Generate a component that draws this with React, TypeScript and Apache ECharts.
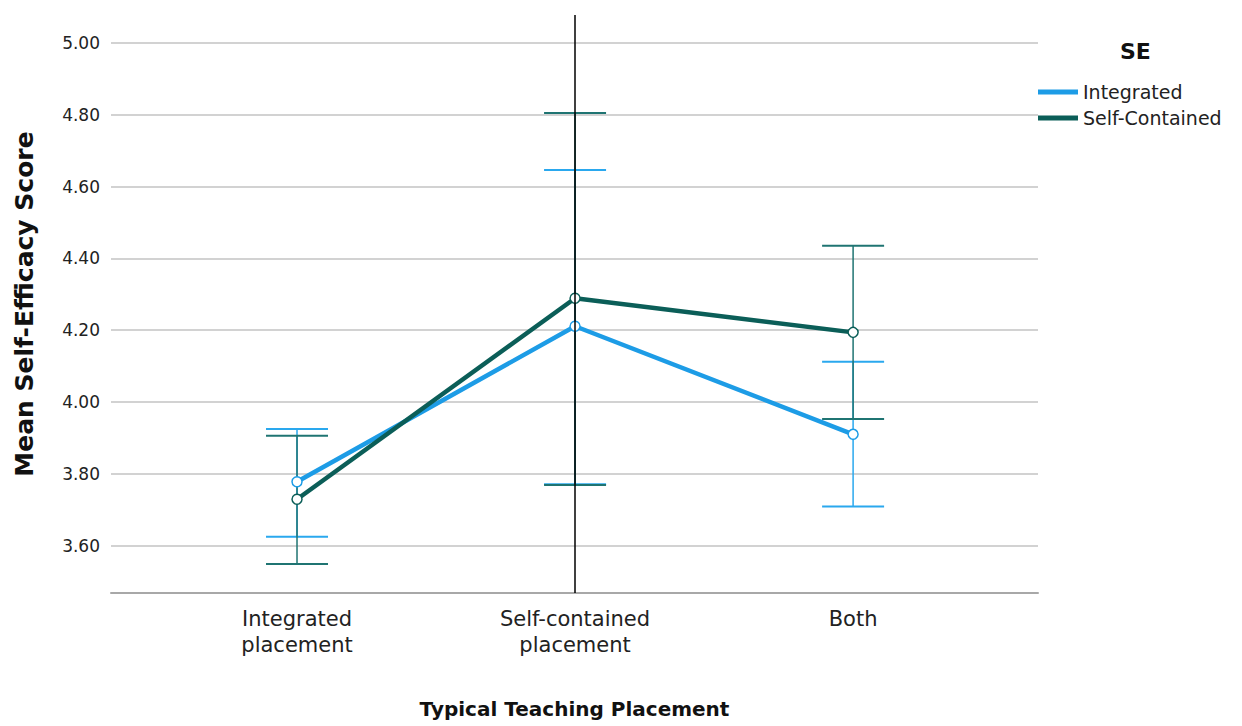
import React, { useEffect, useRef } from "react";
import * as echarts from "echarts";

const categories = ["Integrated\nplacement", "Self-contained\nplacement", "Both"];
const seriesNames = ["Integrated", "Self-Contained"];
const integratedMean = [3.778, 4.211, 3.91];
const integratedLow = [3.625, 3.771, 3.709];
const integratedHigh = [3.925, 4.646, 4.112];
const selfMean = [3.729, 4.289, 4.194];
const selfLow = [3.549, 3.769, 3.953];
const selfHigh = [3.906, 4.805, 4.435];

const BLUE = "#1d9ce6";
const TEAL = "#0b5e58";
const BLUE_ERR = "#2aa8ee";
const TEAL_ERR = "#1f7472";
const FONT = "DejaVu Sans";

function errorSeries(name: string, low: number[], high: number[], color: string) {
  return {
    type: "custom",
    name,
    z: 2,
    encode: { x: 0, y: [1, 2] },
    data: low.map((l, i) => [i, l, high[i]]),
    renderItem: (params: any, api: any) => {
      const x = api.value(0);
      const pLo = api.coord([x, api.value(1)]);
      const pHi = api.coord([x, api.value(2)]);
      const hw = 31;
      return {
        type: "group",
        children: [
          { type: "line", shape: { x1: pLo[0], y1: pLo[1], x2: pHi[0], y2: pHi[1] }, style: { stroke: color, lineWidth: 1.5 } },
          { type: "line", shape: { x1: pLo[0] - hw, y1: pLo[1], x2: pLo[0] + hw, y2: pLo[1] }, style: { stroke: color, lineWidth: 2 } },
          { type: "line", shape: { x1: pHi[0] - hw, y1: pHi[1], x2: pHi[0] + hw, y2: pHi[1] }, style: { stroke: color, lineWidth: 2 } },
        ],
      };
    },
  };
}

export default function App() {
  const ref = useRef<HTMLDivElement>(null);
  useEffect(() => {
    if (!ref.current) return;
    const chart = echarts.init(ref.current, null, { renderer: "svg" });
    chart.setOption({
      animation: false,
      backgroundColor: "#ffffff",
      textStyle: { fontFamily: FONT },
      grid: { left: 111, right: 204, top: 15, bottom: 133, containLabel: false },
      legend: {
        data: [
          { name: seriesNames[0], itemStyle: { color: BLUE, borderWidth: 0 } },
          { name: seriesNames[1], itemStyle: { color: TEAL, borderWidth: 0 } },
        ],
        orient: "vertical",
        left: 1033,
        top: 77,
        icon: "rect",
        itemWidth: 40,
        itemHeight: 5,
        itemGap: 6,
        textStyle: { fontFamily: FONT, fontSize: 19, color: "#222", lineHeight: 20 },
      },
      graphic: [
        {
          type: "text",
          left: 1120,
          top: 40,
          style: { text: "SE", font: `bold 22px "${FONT}"`, fill: "#111" },
        },
      ],
      xAxis: {
        type: "value",
        min: -0.669,
        max: 2.665,
        name: "Typical Teaching Placement",
        nameLocation: "middle",
        nameGap: 106,
        nameTextStyle: { fontFamily: FONT, fontSize: 20, fontWeight: "bold", color: "#111" },
        axisLine: { show: true, lineStyle: { color: "#a8a8a8", width: 2 } },
        axisTick: { show: false },
        splitLine: { show: false },
        axisLabel: {
          customValues: [0, 1, 2],
          formatter: (v: number) => categories[Math.round(v)] ?? "",
          fontFamily: FONT,
          fontSize: 21,
          lineHeight: 26,
          color: "#222",
          margin: 13,
        },
      },
      yAxis: {
        type: "value",
        min: 3.468,
        max: 5.078,
        splitNumber: 8,
        name: "Mean Self-Efficacy Score",
        nameLocation: "middle",
        nameGap: 74,
        nameTextStyle: { fontFamily: FONT, fontSize: 25, fontWeight: "bold", color: "#111" },
        axisLine: { show: false },
        axisTick: { show: false },
        axisLabel: {
          showMinLabel: false,
          showMaxLabel: false,
          formatter: (v: number) => v.toFixed(2),
          fontFamily: FONT,
          fontSize: 17,
          color: "#222",
          margin: 11,
        },
        splitLine: { show: true, showMinLine: false, showMaxLine: false, lineStyle: { color: "#d2d2d2", width: 2 } },
      },
      series: [
        errorSeries("errInt", integratedLow, integratedHigh, BLUE_ERR),
        errorSeries("errSelf", selfLow, selfHigh, TEAL_ERR),
        {
          type: "line",
          name: seriesNames[0],
          z: 3,
          data: integratedMean.map((v, i) => [i, v]),
          lineStyle: { color: BLUE, width: 4.5 },
          itemStyle: { color: "#ffffff", borderColor: BLUE, borderWidth: 1.5 },
          symbol: "circle",
          symbolSize: 10,
          color: BLUE,
        },
        {
          type: "line",
          name: seriesNames[1],
          z: 4,
          data: selfMean.map((v, i) => [i, v]),
          lineStyle: { color: TEAL, width: 4.5 },
          itemStyle: { color: "#ffffff", borderColor: TEAL, borderWidth: 1.5 },
          symbol: "circle",
          symbolSize: 10,
          color: TEAL,
          markLine: {
            silent: true,
            symbol: "none",
            label: { show: false },
            lineStyle: { color: "#000", width: 1.5, type: "solid" },
            data: [{ xAxis: 1 }],
          },
        },
      ],
    });
    return () => chart.dispose();
  }, []);
  return <div ref={ref} style={{ position: "fixed", left: 0, top: 0, width: 1242, height: 726 }} />;
}
